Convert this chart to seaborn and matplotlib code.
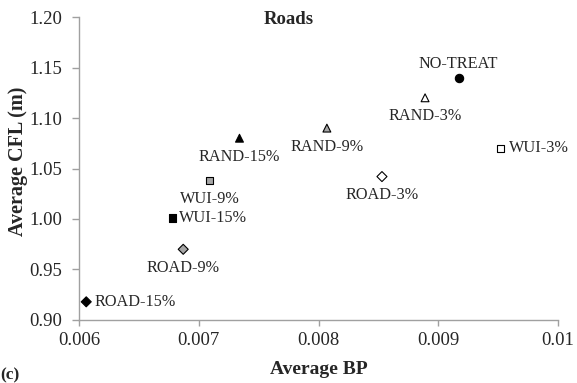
import matplotlib
matplotlib.use("Agg")
import matplotlib.pyplot as plt
import seaborn as sns
import pandas as pd

# Treatment scenarios: average burn probability vs. average conditional flame length
names = ["NO-TREAT", "RAND-3%", "RAND-9%", "RAND-15%",
         "WUI-3%", "WUI-9%", "WUI-15%",
         "ROAD-3%", "ROAD-9%", "ROAD-15%"]
avg_bp = [0.00917, 0.00889, 0.00807, 0.00734,
          0.00952, 0.00709, 0.00678,
          0.00853, 0.00687, 0.00606]
avg_cfl = [1.140, 1.120, 1.090, 1.080,
           1.070, 1.038, 1.001,
           1.042, 0.970, 0.918]

x_ticks = [0.006, 0.007, 0.008, 0.009, 0.01]
x_tick_labels = ["0.006", "0.007", "0.008", "0.009", "0.01"]
y_ticks = [0.90, 0.95, 1.00, 1.05, 1.10, 1.15, 1.20]

# Marker shape / fill per scenario
marker_map = {"NO-TREAT": "o", "RAND-3%": "^", "RAND-9%": "^", "RAND-15%": "^",
              "WUI-3%": "s", "WUI-9%": "s", "WUI-15%": "s",
              "ROAD-3%": "D", "ROAD-9%": "D", "ROAD-15%": "D"}
fill_map = {"NO-TREAT": "black", "RAND-3%": "white", "RAND-9%": "#a6a6a6", "RAND-15%": "black",
            "WUI-3%": "white", "WUI-9%": "#a6a6a6", "WUI-15%": "black",
            "ROAD-3%": "white", "ROAD-9%": "#a6a6a6", "ROAD-15%": "black"}
size_map = {"o": 36, "^": 32, "s": 28, "D": 26}
# label placement: (dx, dy) in points, ha, va
label_pos = {"NO-TREAT": (0, 4, "center", "bottom"),
             "RAND-3%": (0, -7.5, "center", "top"),
             "RAND-9%": (0, -7.5, "center", "top"),
             "RAND-15%": (0, -7.5, "center", "top"),
             "WUI-3%": (6, 0, "left", "center"),
             "WUI-9%": (0, -7.5, "center", "top"),
             "WUI-15%": (5, 0, "left", "center"),
             "ROAD-3%": (0, -7.5, "center", "top"),
             "ROAD-9%": (0, -7.5, "center", "top"),
             "ROAD-15%": (6, 0, "left", "center")}

df = pd.DataFrame({"name": names, "bp": avg_bp, "cfl": avg_cfl})

sns.set_style("white")
plt.rcParams["font.family"] = ["Liberation Serif", "DejaVu Serif"]

fig = plt.figure(figsize=(5.77, 3.83), dpi=100)
ax = fig.add_axes([0.137, 0.1645, 0.830, 0.7911])

for shape in ["o", "^", "s", "D"]:
    sub = df[df["name"].map(marker_map) == shape]
    sns.scatterplot(data=sub, x="bp", y="cfl", hue="name", palette=fill_map,
                    marker=shape, s=size_map[shape], edgecolor="black",
                    linewidth=0.8, legend=False, ax=ax, zorder=3)

for n, x, y in zip(names, avg_bp, avg_cfl):
    dx, dy, ha, va = label_pos[n]
    ax.annotate(n, (x, y), xytext=(dx, dy), textcoords="offset points",
                ha=ha, va=va, fontsize=11.7)

ax.set_xlim(0.006, 0.01)
ax.set_ylim(0.90, 1.20)
ax.set_xticks(x_ticks)
ax.set_xticklabels(x_tick_labels)
ax.set_yticks(y_ticks)
ax.set_yticklabels([f"{v:.2f}" for v in y_ticks])
ax.tick_params(axis="both", labelsize=13.5, direction="out",
               color="#a0a0a0", width=1, left=True, bottom=True)
ax.tick_params(axis="y", length=5, pad=7)
ax.tick_params(axis="x", length=4.5, pad=4)

for side in ["top", "right"]:
    ax.spines[side].set_visible(False)
for side in ["left", "bottom"]:
    ax.spines[side].set_color("#a0a0a0")
    ax.spines[side].set_linewidth(1)

ax.set_xlabel("Average BP", fontsize=14, fontweight="bold")
ax.set_ylabel("Average CFL (m)", fontsize=14.5, fontweight="bold")
ax.xaxis.set_label_coords(0.5, -0.135)
ax.yaxis.set_label_coords(-0.107, 0.525)
ax.text(0.437, 0.993, "Roads", transform=ax.transAxes, ha="center", va="center",
        fontsize=13.5, fontweight="bold")
fig.text(0.0, 0.0, "(c)", ha="left", va="bottom", fontsize=12.5, fontweight="bold")

fig.savefig("out.png", dpi=100)
